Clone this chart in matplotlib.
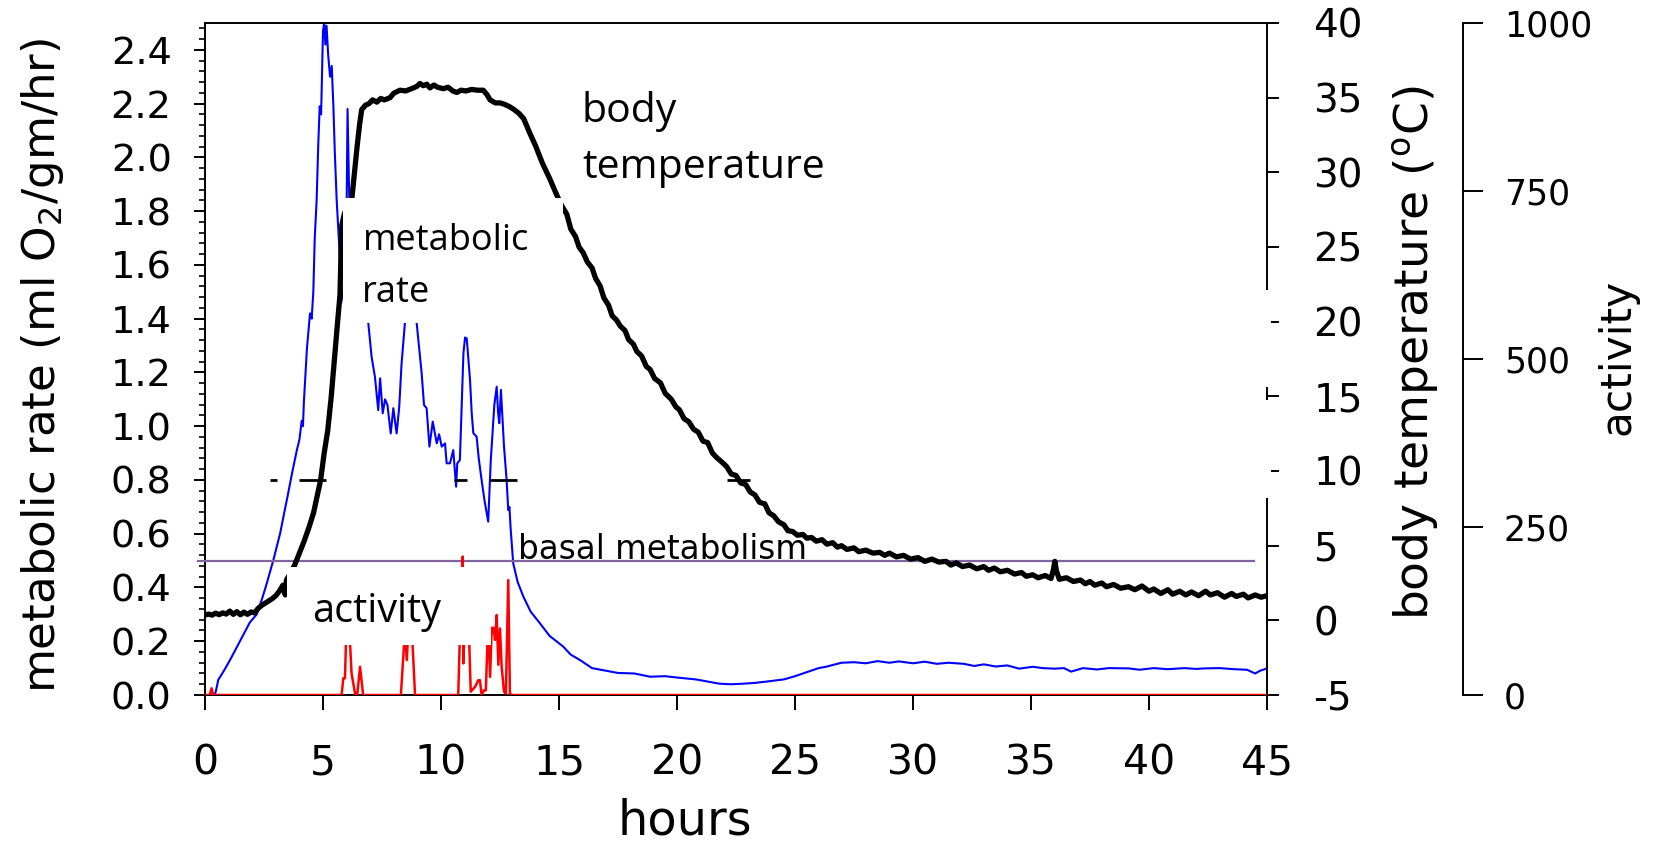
import matplotlib
matplotlib.use('Agg')
import matplotlib.pyplot as plt
import matplotlib.transforms as mtransforms
from matplotlib.patches import Rectangle
from matplotlib.ticker import MultipleLocator

# metabolic rate (ml O2/gm/hr)
met_hours = [0.42, 0.5, 0.56, 0.8, 1.06, 1.3, 1.6, 1.9, 2.19, 2.4, 2.6, 2.89, 3.18, 3.5, 3.7, 3.89,
             4.0, 4.1, 4.15, 4.19, 4.32, 4.45, 4.52, 4.59, 4.65, 4.73, 4.8, 4.86, 4.92, 5.0, 5.05,
             5.1, 5.15, 5.22, 5.3, 5.37, 5.44, 5.5, 5.58, 5.67, 5.79, 5.9, 5.98, 6.04, 6.1, 6.18,
             6.35, 6.55, 6.75, 6.92, 7.06, 7.2, 7.34, 7.42, 7.53, 7.63, 7.73, 7.87, 7.98, 8.12,
             8.23, 8.33, 8.47, 8.6, 8.75, 8.88, 8.97, 9.18, 9.28, 9.39, 9.51, 9.65, 9.82, 9.92,
             10.03, 10.17, 10.24, 10.38, 10.52, 10.64, 10.69, 10.8, 10.95, 11.02, 11.09, 11.23,
             11.3, 11.37, 11.51, 11.6, 11.72, 11.85, 12.0, 12.11, 12.26, 12.36, 12.42, 12.47,
             12.54, 12.67, 12.78, 12.85, 12.9, 12.95, 13.06, 13.25, 13.49, 13.8, 14.19, 14.6,
             15.18, 15.5, 15.89, 16.4, 17.0, 17.5, 18.2, 18.86, 19.5, 20.0, 20.8, 21.3, 21.8,
             22.3, 22.8, 23.3, 23.8, 24.53, 25.0, 25.5, 26.0, 26.31, 26.97, 27.5, 28.0, 28.5,
             29.0, 29.4, 30.0, 30.5, 31.0, 31.5, 32.15, 32.6, 33.0, 33.5, 34.0, 34.5, 35.07,
             35.5, 36.0, 36.4, 36.7, 37.2, 37.8, 38.3, 39.13, 39.6, 40.2, 40.8, 41.5, 42.0,
             42.37, 43.0, 43.6, 44.15, 44.5, 44.7, 45.0]
met_rate = [0.0, 0.03, 0.056, 0.09, 0.13, 0.17, 0.22, 0.27, 0.30, 0.353, 0.41, 0.50, 0.60, 0.74,
            0.83, 0.91, 0.95, 1.02, 1.00, 1.09, 1.29, 1.42, 1.40, 1.50, 1.70, 1.84, 2.05, 2.19,
            2.16, 2.47, 2.50, 2.42, 2.49, 2.38, 2.30, 2.34, 2.19, 2.02, 1.84, 1.70, 1.51, 1.45,
            1.60, 2.18, 1.9, 1.6, 1.5, 1.46, 1.42, 1.383, 1.258, 1.184, 1.060, 1.178, 1.048,
            1.10, 1.079, 0.973, 1.067, 0.973, 1.072, 1.234, 1.383, 1.55, 1.60, 1.50, 1.383,
            1.197, 1.079, 1.067, 0.924, 1.017, 0.936, 0.97, 0.924, 0.936, 0.862, 0.862, 0.911,
            0.775, 0.862, 0.874, 1.271, 1.33, 1.327, 1.172, 1.05, 0.974, 0.961, 0.88, 0.80,
            0.72, 0.645, 0.874, 1.079, 1.147, 1.05, 1.011, 1.135, 0.924, 0.80, 0.688, 0.70,
            0.62, 0.49, 0.42, 0.366, 0.31, 0.267, 0.22, 0.18, 0.15, 0.13, 0.10, 0.09, 0.082,
            0.08, 0.068, 0.07, 0.065, 0.058, 0.05, 0.042, 0.04, 0.042, 0.045, 0.05, 0.058,
            0.07, 0.085, 0.1, 0.105, 0.12, 0.122, 0.118, 0.126, 0.12, 0.125, 0.118, 0.124,
            0.116, 0.12, 0.116, 0.108, 0.114, 0.106, 0.11, 0.098, 0.105, 0.1, 0.098, 0.1,
            0.087, 0.1, 0.095, 0.1, 0.099, 0.094, 0.1, 0.096, 0.1, 0.097, 0.099, 0.1, 0.096,
            0.094, 0.08, 0.09, 0.099]

# body temperature (oC)
temp_hours = [0.0, 0.15, 0.3, 0.45, 0.6, 0.75, 0.9, 1.05, 1.2, 1.35, 1.5, 1.65, 1.8, 1.95, 2.1,
              2.25, 2.4, 2.55, 2.7, 2.85, 3.0, 3.15, 3.3, 3.4, 3.45, 3.6, 3.8, 4.0, 4.2, 4.4,
              4.6, 4.75, 4.9, 5.05, 5.2, 5.35, 5.5, 5.62, 5.72, 5.79, 5.9, 6.05, 6.22, 6.35,
              6.45, 6.55, 6.64, 6.8, 6.95, 7.1, 7.28, 7.45, 7.6, 7.84, 8.0, 8.26, 8.5, 8.75,
              8.97, 9.11, 9.25, 9.4, 9.53, 9.7, 9.85, 10.1, 10.3, 10.5, 10.67, 10.85, 11.05,
              11.3, 11.55, 11.79, 11.95, 12.08, 12.3, 12.5, 12.7, 12.9, 13.1, 13.3, 13.5, 13.77,
              14.0, 14.3, 14.6, 14.9, 15.1, 15.33, 15.5, 15.7, 15.85, 16.03, 16.2, 16.4, 16.55,
              16.74, 16.9, 17.1, 17.25, 17.44, 17.6, 17.8, 17.95, 18.15, 18.3, 18.5, 18.7,
              18.86, 19.05, 19.3, 19.5, 19.76, 19.95, 20.1, 20.3, 20.5, 20.7, 20.9, 21.1, 21.3,
              21.5, 21.68, 21.9, 22.1, 22.3, 22.5, 22.7, 22.91, 23.1, 23.3, 23.5, 23.72, 23.9,
              24.1, 24.3, 24.53, 24.7, 24.9, 25.1, 25.34, 25.5, 25.7, 25.9, 26.15, 26.35, 26.6,
              26.8, 26.97, 27.2, 27.5, 27.7, 28.0, 28.3, 28.59, 28.8, 29.0, 29.3, 29.6, 29.9,
              30.21, 30.5, 30.8, 31.1, 31.4, 31.6, 31.83, 32.1, 32.4, 32.7, 33.0, 33.2, 33.45,
              33.7, 34.0, 34.3, 34.6, 34.8, 35.07, 35.3, 35.6, 35.85, 35.95, 36.01, 36.08, 36.2,
              36.5, 36.8, 37.1, 37.3, 37.5, 37.7, 38.0, 38.2, 38.5, 38.8, 39.13, 39.4, 39.7,
              40.0, 40.2, 40.5, 40.8, 41.0, 41.3, 41.56, 41.8, 42.1, 42.4, 42.6, 42.9, 43.2,
              43.5, 43.7, 44.0, 44.2, 44.5, 44.75, 45.0]
temp_c = [0.36, 0.42, 0.35, 0.48, 0.38, 0.5, 0.42, 0.62, 0.4, 0.58, 0.37, 0.55, 0.4, 0.56, 0.5,
          0.8, 1.0, 1.15, 1.3, 1.45, 1.65, 1.95, 2.35, 1.7, 2.7, 3.1, 3.7, 4.5, 5.3, 6.2, 7.2,
          8.3, 9.4, 11.2, 12.7, 15.0, 17.8, 20.0, 21.8, 26.4, 27.2, 27.8, 28.2, 30.2, 31.8,
          33.2, 34.2, 34.5, 34.6, 34.85, 34.7, 34.95, 34.85, 35.0, 35.3, 35.5, 35.45, 35.6,
          35.75, 35.95, 35.8, 35.9, 35.65, 35.85, 35.7, 35.6, 35.7, 35.45, 35.35, 35.5, 35.45,
          35.55, 35.5, 35.5, 35.2, 34.85, 34.65, 34.65, 34.55, 34.4, 34.2, 33.95, 33.6, 32.6,
          31.8, 30.6, 29.6, 28.5, 27.8, 27.2, 26.2, 25.7, 25.0, 24.6, 24.0, 23.6, 22.9, 22.4,
          21.6, 21.1, 20.4, 20.1, 19.7, 19.4, 18.8, 18.5, 18.0, 17.7, 17.0, 16.8, 16.2, 15.9,
          15.2, 14.8, 14.3, 14.1, 13.5, 13.3, 12.8, 12.6, 12.0, 11.9, 11.2, 10.9, 10.6, 10.3,
          9.8, 9.7, 9.2, 9.1, 8.6, 8.4, 7.9, 7.8, 7.2, 7.0, 6.6, 6.4, 6.0, 5.95, 5.7, 5.75,
          5.5, 5.55, 5.3, 5.4, 5.1, 5.2, 4.9, 5.0, 4.75, 4.85, 4.6, 4.7, 4.5, 4.55, 4.35, 4.5,
          4.25, 4.35, 4.1, 4.2, 3.95, 4.1, 3.9, 3.95, 3.7, 3.85, 3.6, 3.7, 3.45, 3.6, 3.35,
          3.5, 3.25, 3.35, 3.1, 3.2, 2.95, 3.05, 2.85, 3.0, 2.8, 3.4, 3.95, 3.3, 2.75, 2.85,
          2.6, 2.7, 2.45, 2.6, 2.35, 2.5, 2.25, 2.4, 2.15, 2.25, 2.05, 2.3, 1.95, 2.1, 1.8,
          2.05, 1.75, 1.95, 1.7, 1.9, 1.65, 1.95, 1.7, 1.85, 1.55, 1.8, 1.6, 1.75, 1.5, 1.7,
          1.55, 1.65]

# activity counts
act_hours = [0.0, 0.2, 0.28, 0.35, 5.79, 5.86, 5.93, 6.0, 6.1, 6.21, 6.36, 6.45, 6.57, 6.7,
             8.3, 8.47, 8.55, 8.62, 8.76, 8.9, 10.73, 10.85, 10.92, 10.95, 11.02, 11.16, 11.26,
             11.44, 11.58, 11.65, 11.72, 11.82, 11.9, 12.0, 12.08, 12.15, 12.22, 12.29, 12.36,
             12.43, 12.5, 12.57, 12.67, 12.75, 12.85, 12.92, 13.0, 45.0]
act_count = [0, 0, 10, 0, 0, 25, 25, 110, 110, 32, 2, 0, 42, 0,
             0, 95, 52, 100, 100, 0, 0, 150, 206, 47, 130, 120, 5,
             12, 22, 22, 0, 7, 7, 110, 27, 100, 100, 82, 119,
             45, 99, 42, 5, 2, 171, 2, 0, 0]

basal_rate = 0.5
basal_span = [-0.3, 44.45]

# short black bits left at 0.8 ml O2/gm/hr
dash_level = 0.8
dash_starts = [2.75, 3.98, 10.55, 12.08, 22.1]
dash_ends = [3.05, 5.13, 11.10, 13.22, 23.1]

x_ticks = list(range(0, 46, 5))
met_ticks = [0.0, 0.2, 0.4, 0.6, 0.8, 1.0, 1.2, 1.4, 1.6, 1.8, 2.0, 2.2, 2.4]
temp_ticks = list(range(-5, 41, 5))
act_ticks = [0, 250, 500, 750, 1000]

plt.rcParams['font.family'] = ['DejaVu Sans']
plt.rcParams['axes.unicode_minus'] = False

fig = plt.figure(figsize=(16.58, 8.48), dpi=100)
ax = fig.add_axes([205 / 1658, 1 - 695 / 848, 1062 / 1658, 672 / 848])
ax2 = ax.twinx()
ax3 = ax.twinx()

# left axis: metabolic rate
ax.plot(met_hours, met_rate, color='#0000FF', lw=1.5, zorder=2)
ax.plot(basal_span, [basal_rate, basal_rate], color='#8064A2', lw=1.6, clip_on=False, zorder=3)
ax.hlines([dash_level] * len(dash_starts), dash_starts, dash_ends, color='black', lw=2.0, zorder=3)
ax.set_xlim(0, 45)
ax.set_ylim(0, 2.5)
ax.set_xticks(x_ticks)
ax.set_yticks(met_ticks)
ax.set_yticklabels(['%.1f' % v for v in met_ticks])
ax.yaxis.set_minor_locator(MultipleLocator(0.04))
ax.tick_params(axis='x', direction='out', length=11, width=1.4, pad=24, labelsize=29.5, top=False)
ax.tick_params(axis='y', which='major', direction='out', length=8, width=1.4, pad=16, labelsize=27.5)
ax.tick_params(axis='y', which='minor', direction='out', length=4, width=1.2)
ax.spines['right'].set_visible(False)
for s in ['left', 'top', 'bottom']:
    ax.spines[s].set_linewidth(1.4)
ax.set_xlabel('hours', fontsize=34.5)
ax.xaxis.set_label_coords(0.452, -0.153)
ax.set_ylabel('metabolic rate (ml O$_2$/gm/hr)', fontsize=32.5)
ax.yaxis.set_label_coords(-0.131, 0.491)

# body temperature
ax2.plot(temp_hours, temp_c, color='black', lw=3.8, solid_joinstyle='round',
         solid_capstyle='round', zorder=2)
ax2.set_ylim(-5, 40)
ax2.set_yticks(temp_ticks)
ax2.tick_params(axis='y', direction='out', length=8.4, width=1.4, pad=25, labelsize=28)
for s in ['left', 'top', 'bottom']:
    ax2.spines[s].set_visible(False)
ax2.spines['right'].set_linewidth(1.4)
ax2.set_ylabel('body temperature ($^{\\rm o}$C)', fontsize=34)
ax2.yaxis.set_label_coords(1.1168, 0.51)

# activity
ax3.plot(act_hours, act_count, color='#FF0000', lw=1.8, zorder=2)
ax3.set_ylim(0, 1000)
ax3.set_yticks(act_ticks)
ax3.tick_params(axis='y', direction='out', length=14.4, width=1.4, pad=15, labelsize=25)
for s in ['left', 'top', 'bottom']:
    ax3.spines[s].set_visible(False)
ax3.spines['right'].set_position(('axes', 1 + 196 / 1062))
ax3.spines['right'].set_linewidth(1.4)
ax3.set_ylabel('activity', fontsize=30.5)
ax3.yaxis.set_label_coords(1.3107, 0.503)

# white label boxes laid over the curves
boxes = [(5.85, 1.385, 15.17 - 5.85, 1.85 - 1.385),
         (3.47, 0.186, 12.12 - 3.47, 0.476 - 0.186)]
for x0, y0, w, h in boxes:
    fig.add_artist(Rectangle((x0, y0), w, h, transform=ax.transData,
                             facecolor='white', edgecolor='none', zorder=1))

# gaps in the temperature spine
spine_tr = mtransforms.blended_transform_factory(ax2.transAxes, ax2.transData)
for lo, hi in [(8.2, 14.75), (15.6, 22.1)]:
    fig.add_artist(Rectangle((0.99, lo), 0.0135, hi - lo, transform=spine_tr,
                             facecolor='white', edgecolor='none', zorder=1))

lab = dict(transform=ax.transData, family=['Open Sans'], va='baseline', ha='left', zorder=4)
fig.text(15.97, 2.133, 'body', fontsize=29.5, **lab)
fig.text(15.97, 1.922, 'temperature', fontsize=29.5, **lab)
fig.text(6.69, 1.656, 'metabolic', fontsize=26, **lab)
fig.text(6.66, 1.463, 'rate', fontsize=26, **lab)
fig.text(4.55, 0.273, 'activity', fontsize=28.5, **lab)
fig.text(13.28, 0.505, 'basal metabolism', fontsize=23.5, transform=ax.transData,
         va='baseline', ha='left', zorder=4)

fig.savefig('out.png', dpi=100)
